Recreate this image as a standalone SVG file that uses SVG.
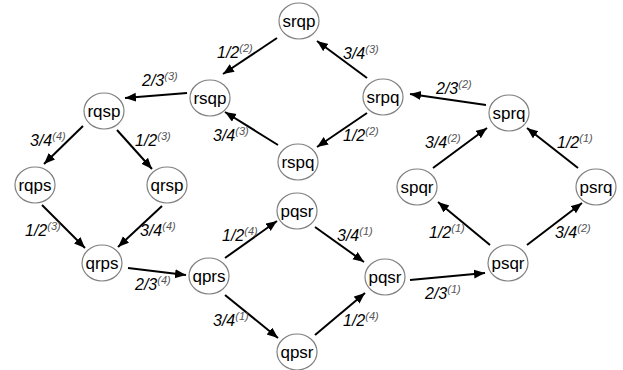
<svg xmlns="http://www.w3.org/2000/svg" width="623" height="370" viewBox="0 0 623 370">
<style>
.n ellipse{fill:#fff;stroke:#808080;stroke-width:1.2}
.n text{font-family:"Liberation Sans",Arial,sans-serif;font-size:17px;text-anchor:middle;fill:#000}
.e line{stroke:#000;stroke-width:2;marker-end:url(#ah)}
.l{font-family:"Liberation Sans",Arial,sans-serif;font-size:16px;font-style:italic;fill:#000}
.s{font-size:11px;fill:#555}
</style>
<defs>
<marker id="ah" markerUnits="userSpaceOnUse" markerWidth="12" markerHeight="10" refX="11" refY="4.5" orient="auto">
<path d="M0,0 L11,4.5 L0,9 z" fill="#000"/>
</marker>
</defs>
<rect width="623" height="370" fill="#fff"/>
<g class="e" id="edges">
<line x1="277" y1="38" x2="223" y2="74"/>
<line x1="367" y1="78" x2="317" y2="41"/>
<line x1="367" y1="113" x2="317" y2="147"/>
<line x1="278" y1="145" x2="225" y2="112"/>
<line x1="486" y1="105" x2="410" y2="94"/>
<line x1="187" y1="93" x2="125" y2="98"/>
<line x1="83" y1="126" x2="44" y2="164"/>
<line x1="117" y1="130" x2="152" y2="169"/>
<line x1="42" y1="205" x2="85" y2="248"/>
<line x1="162" y1="206" x2="118" y2="247"/>
<line x1="128" y1="268" x2="186" y2="275"/>
<line x1="225" y1="258" x2="277" y2="221"/>
<line x1="315" y1="227" x2="364" y2="262"/>
<line x1="225" y1="295" x2="278" y2="338"/>
<line x1="315" y1="335" x2="365" y2="293"/>
<line x1="410" y1="280" x2="485" y2="273"/>
<line x1="490" y1="245" x2="438" y2="202"/>
<line x1="527" y1="245" x2="582" y2="203"/>
<line x1="433" y1="168" x2="487" y2="128"/>
<line x1="578" y1="168" x2="527" y2="128"/>
</g>
<g id="labels">
<text class="l" x="217" y="58">1/2<tspan class="s" dy="-6">(2)</tspan></text>
<text class="l" x="343" y="59">3/4<tspan class="s" dy="-6">(3)</tspan></text>
<text class="l" x="213" y="141">3/4<tspan class="s" dy="-6">(3)</tspan></text>
<text class="l" x="343" y="141">1/2<tspan class="s" dy="-6">(2)</tspan></text>
<text class="l" x="142" y="86">2/3<tspan class="s" dy="-6">(3)</tspan></text>
<text class="l" x="436" y="94">2/3<tspan class="s" dy="-6">(2)</tspan></text>
<text class="l" x="30" y="146">3/4<tspan class="s" dy="-6">(4)</tspan></text>
<text class="l" x="135" y="146">1/2<tspan class="s" dy="-6">(3)</tspan></text>
<text class="l" x="25" y="236">1/2<tspan class="s" dy="-6">(3)</tspan></text>
<text class="l" x="140" y="236">3/4<tspan class="s" dy="-6">(4)</tspan></text>
<text class="l" x="135" y="290">2/3<tspan class="s" dy="-6">(4)</tspan></text>
<text class="l" x="222" y="241">1/2<tspan class="s" dy="-6">(4)</tspan></text>
<text class="l" x="337" y="241">3/4<tspan class="s" dy="-6">(1)</tspan></text>
<text class="l" x="213" y="326">3/4<tspan class="s" dy="-6">(1)</tspan></text>
<text class="l" x="343" y="326">1/2<tspan class="s" dy="-6">(4)</tspan></text>
<text class="l" x="425" y="299">2/3<tspan class="s" dy="-6">(1)</tspan></text>
<text class="l" x="425" y="148">3/4<tspan class="s" dy="-6">(2)</tspan></text>
<text class="l" x="557" y="148">1/2<tspan class="s" dy="-6">(1)</tspan></text>
<text class="l" x="429" y="238">1/2<tspan class="s" dy="-6">(1)</tspan></text>
<text class="l" x="555" y="238">3/4<tspan class="s" dy="-6">(2)</tspan></text>
</g>
<g class="n" id="srqp"><ellipse cx="299" cy="21" rx="20" ry="18"/><text x="299" y="27">srqp</text></g>
<g class="n" id="rsqp"><ellipse cx="210" cy="98" rx="20" ry="18"/><text x="210" y="104">rsqp</text></g>
<g class="n" id="srpq"><ellipse cx="383" cy="97" rx="20" ry="18"/><text x="383" y="103">srpq</text></g>
<g class="n" id="rspq"><ellipse cx="298" cy="162" rx="20" ry="18"/><text x="298" y="168">rspq</text></g>
<g class="n" id="rqsp"><ellipse cx="104" cy="111" rx="20" ry="18"/><text x="104" y="117">rqsp</text></g>
<g class="n" id="rqps"><ellipse cx="35" cy="185" rx="20" ry="18"/><text x="35" y="191">rqps</text></g>
<g class="n" id="qrsp"><ellipse cx="167" cy="185" rx="20" ry="18"/><text x="167" y="191">qrsp</text></g>
<g class="n" id="qrps"><ellipse cx="102" cy="263" rx="20" ry="18"/><text x="102" y="269">qrps</text></g>
<g class="n" id="qprs"><ellipse cx="209" cy="276" rx="20" ry="18"/><text x="209" y="282">qprs</text></g>
<g class="n" id="pqsr1"><ellipse cx="297" cy="211" rx="20" ry="18"/><text x="297" y="217">pqsr</text></g>
<g class="n" id="pqsr2"><ellipse cx="385" cy="277" rx="20" ry="18"/><text x="385" y="283">pqsr</text></g>
<g class="n" id="qpsr"><ellipse cx="297" cy="352" rx="20" ry="18"/><text x="297" y="358">qpsr</text></g>
<g class="n" id="psqr"><ellipse cx="508" cy="263" rx="20" ry="18"/><text x="508" y="269">psqr</text></g>
<g class="n" id="spqr"><ellipse cx="417" cy="187" rx="20" ry="18"/><text x="417" y="193">spqr</text></g>
<g class="n" id="psrq"><ellipse cx="596" cy="187" rx="20" ry="18"/><text x="596" y="193">psrq</text></g>
<g class="n" id="sprq"><ellipse cx="509" cy="113" rx="20" ry="18"/><text x="509" y="119">sprq</text></g>
</svg>
